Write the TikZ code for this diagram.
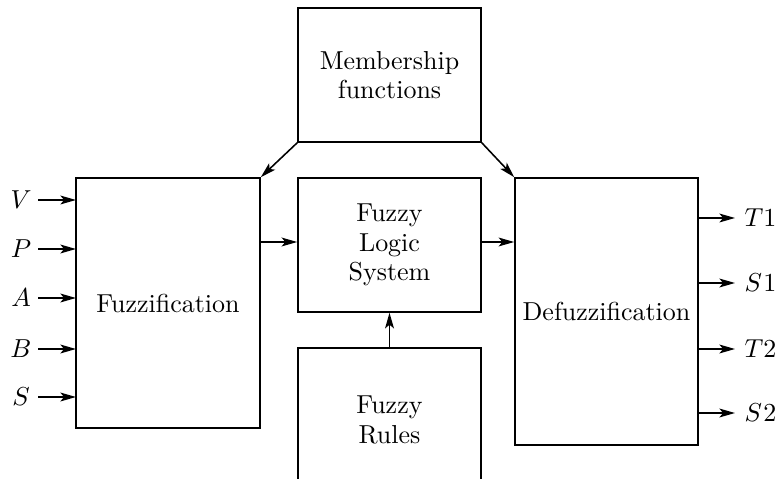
\documentclass[tikz,border=0pt]{standalone}
\usetikzlibrary{arrows.meta}
\def\u{0.385}
\begin{document}
\begin{tikzpicture}[x=\u pt,y=-\u pt,
  blk/.style={draw,line width=0.6pt,align=center,inner sep=0pt,font=\fontsize{10}{11.4}\selectfont},
  lbl/.style={font=\fontsize{10}{11.4}\selectfont,inner sep=0pt},
  arr/.style={line width=0.6pt,-{Stealth[length=6pt,width=3.4pt,inset=1.4pt]}}]
\useasboundingbox (0,0) rectangle (777,479);
\clip (0,0) rectangle (777,479);
\node[blk,minimum width={183*\u pt},minimum height={134*\u pt}] (mf) at (389.5,75) {Membership\\functions};
\node[blk,minimum width={184*\u pt},minimum height={250*\u pt}] (fz) at (168,303) {Fuzzification};
\node[blk,minimum width={183*\u pt},minimum height={134*\u pt}] (fls) at (389.5,245) {Fuzzy\\Logic\\System};
\node[blk,minimum width={183*\u pt},minimum height={144*\u pt}] (fr) at (389.5,420) {Fuzzy\\Rules};
\node[blk,minimum width={183*\u pt},minimum height={267*\u pt}] (df) at (606.5,311.5) {Defuzzification};
% inputs
\foreach \n/\t/\y in {iv/V/200, ip/P/249, ia/A/298, ib/B/349, is/S/397}{
  \node[lbl] (\n) at (21,\y) {$\t$};
  \coordinate (\n s) at (38,\y);
  \coordinate (\n e) at (76,\y);
  \draw[arr] (\n s) -- (\n e);
}
% outputs
\foreach \n/\t/\y in {ot1/T1/218, os1/S\mkern1mu1/283, ot2/T2/349, os2/S\mkern1mu2/413}{
  \coordinate (\n s) at (698,\y);
  \coordinate (\n e) at (735,\y);
  \node[lbl,anchor=west] (\n) at (744,\y) {$\t$};
  \draw[arr] (\n s) -- (\n e);
}
\draw[arr] (fz.east |- 0,242) -- (fls.west |- 0,242);
\draw[arr] (fls.east |- 0,242) -- (df.west |- 0,242);
\draw[arr] (fr.north) -- (fls.south);
\draw[arr] (mf.south west) -- (fz.north east);
\draw[arr] (mf.south east) -- (df.north west);
\end{tikzpicture}
\end{document}
